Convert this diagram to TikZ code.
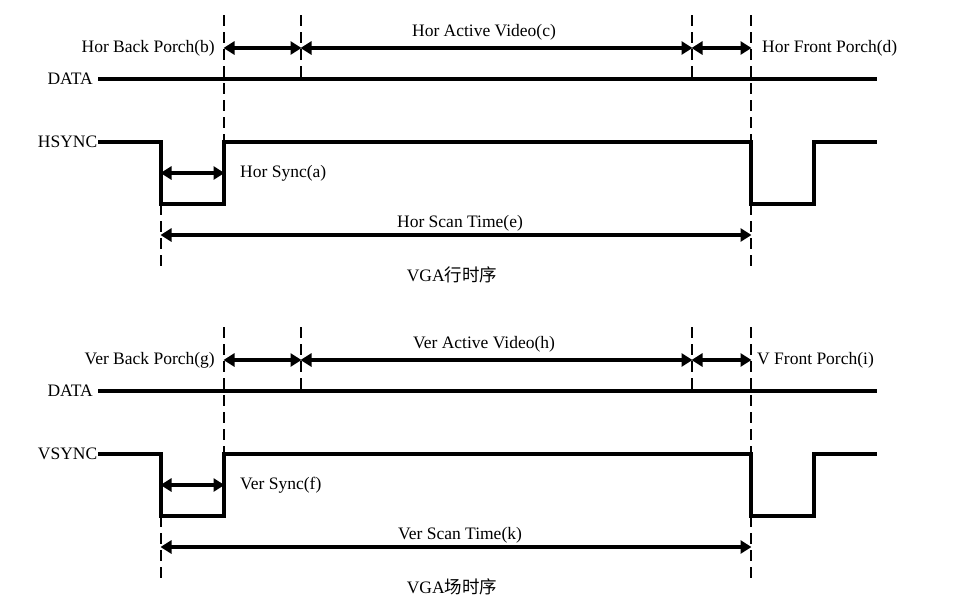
\documentclass[tikz,border=0pt]{standalone}
\usepackage{fontspec}
\setmainfont{Liberation Serif}
\newfontfamily\cjk{Noto Sans CJK SC}
\usetikzlibrary{arrows.meta}
\tikzset{
  sig/.style={line width=3.4pt, line join=miter},
  guide/.style={line width=1.5pt, dash pattern=on 11pt off 6pt},
  dim/.style={line width=3.4pt, {Triangle[length=11pt,width=13pt]}-{Triangle[length=11pt,width=13pt]}, shorten <=-0.5pt, shorten >=-0.5pt},
  lbl/.style={font=\fontsize{17.5}{19}\selectfont, inner sep=1pt},
}
\newcommand{\fpshift}{10pt}
\newcommand{\tdiagram}[9]{%
\begin{scope}[yshift=-#2pt]
  % coordinates
  \coordinate (#1d0) at (98,79);
  \coordinate (#1d1) at (877,79);
  \coordinate (#1s0) at (98,142);
  \coordinate (#1s1) at (161,142);
  \coordinate (#1s2) at (161,204);
  \coordinate (#1s3) at (224,204);
  \coordinate (#1s4) at (224,142);
  \coordinate (#1s5) at (751,142);
  \coordinate (#1s6) at (751,204);
  \coordinate (#1s7) at (814,204);
  \coordinate (#1s8) at (814,142);
  \coordinate (#1s9) at (877,142);
  \coordinate (#1gA) at (224,15);
  \coordinate (#1gB) at (301,15);
  \coordinate (#1gBe) at (301,79);
  \coordinate (#1gC) at (692,15);
  \coordinate (#1gCe) at (692,79);
  \coordinate (#1gD) at (751,15);
  \coordinate (#1gE) at (161,266);
  \coordinate (#1gF) at (751,266);
  \coordinate (#1a1) at (224,48);
  \coordinate (#1a2) at (301,48);
  \coordinate (#1a3) at (692,48);
  \coordinate (#1a4) at (751,48);
  \coordinate (#1b1) at (161,173);
  \coordinate (#1b2) at (224,173);
  \coordinate (#1c1) at (161,235);
  \coordinate (#1c2) at (751,235);
  % guides
  \draw[guide] (#1gA) -- (#1s4);
  \draw[guide] (#1gB) -- (#1gBe);
  \draw[guide] (#1gC) -- (#1gCe);
  \draw[guide] (#1gD) -- (#1s5);
  \draw[guide] (#1s2) -- (#1gE);
  \draw[guide] (#1s6) -- (#1gF);
  % signals
  \draw[sig] (#1d0) -- (#1d1);
  \draw[sig] (#1s0) -- (#1s1) -- (#1s2) -- (#1s3) -- (#1s4) -- (#1s5) -- (#1s6) -- (#1s7) -- (#1s8) -- (#1s9);
  % dimension arrows
  \draw[dim] (#1a1) -- (#1a2);
  \draw[dim] (#1a2) -- (#1a3);
  \draw[dim] (#1a3) -- (#1a4);
  \draw[dim] (#1b1) -- (#1b2);
  \draw[dim] (#1c1) -- (#1c2);
  % labels
  \node[lbl, anchor=east] (#1ldata) at (94,79) {DATA};
  \node[lbl, anchor=east, inner sep=0.5pt] (#1lsig) at (#1s0) {#3};
  \node[lbl, anchor=east] (#1lbp) at (216,48) {#4};
  \node[lbl] (#1lav) at (484,32) {#5};
  \node[lbl, anchor=west] (#1lfp) at ([xshift=\fpshift]#1a4) {#6};
  \node[lbl, anchor=west] (#1lsy) at (239,173) {#7};
  \node[lbl] (#1lsc) at (460,223) {#8};
  \node[lbl] (#1lcap) at (452,275) {#9};
\end{scope}}
\begin{document}
\begin{tikzpicture}[x=1pt, y=-1pt]
  \useasboundingbox (0,0) rectangle (954,600);
  \tdiagram{h}{0}{HSYNC}{Hor Back Porch(b)}{Hor Active Video(c)}{Hor Front Porch(d)}{Hor Sync(a)}{Hor Scan Time(e)}{VGA{\cjk 行时序}}
  \renewcommand{\fpshift}{5pt}
  \tdiagram{v}{312}{VSYNC}{Ver Back Porch(g)}{Ver Active Video(h)}{V Front Porch(i)}{Ver Sync(f)}{Ver Scan Time(k)}{VGA{\cjk 场时序}}
\end{tikzpicture}
\end{document}
